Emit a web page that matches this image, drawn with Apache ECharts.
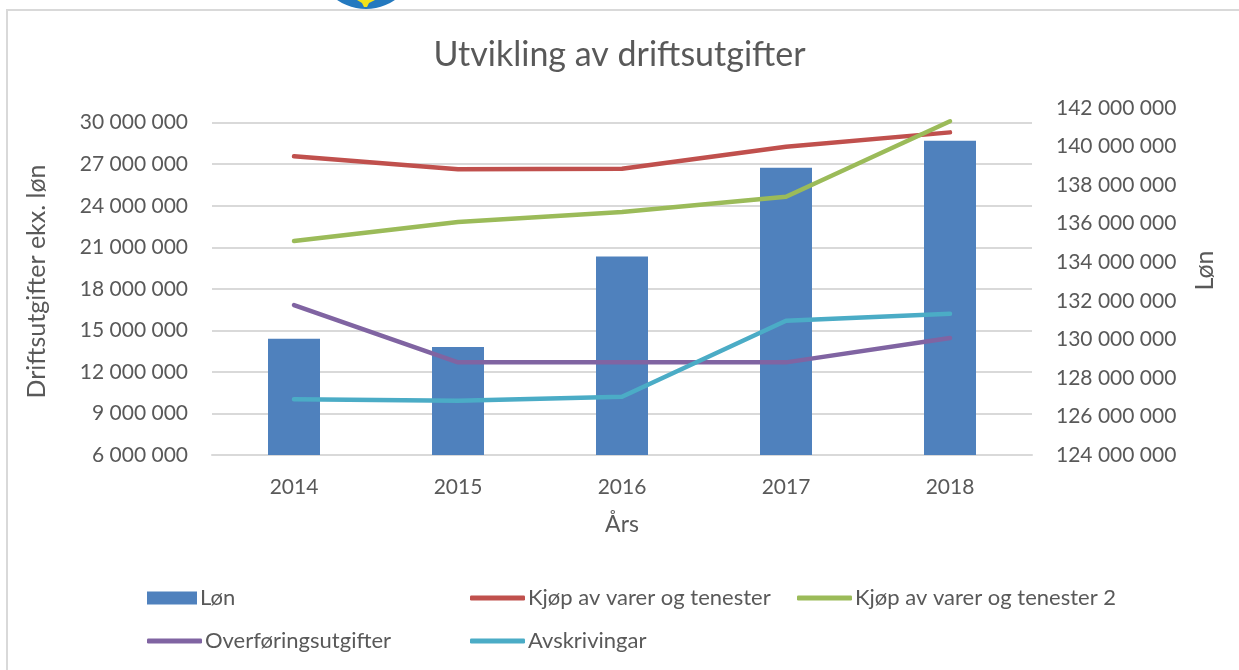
<!DOCTYPE html>
<html>
<head>
<meta charset="utf-8">
<script src="https://cdn.jsdelivr.net/npm/echarts@6/dist/echarts.min.js"></script>
<style>
  html, body { margin: 0; padding: 0; background: #fff; }
  #chart { width: 1239px; height: 670px; }
</style>
</head>
<body>
<div id="chart"></div>
<script>
const years = ['2014', '2015', '2016', '2017', '2018'];
const lonValues = [130030000, 129600000, 134300000, 138900000, 140300000];
const kjopValues = [27570000, 26630000, 26670000, 28260000, 29300000];
const kjop2Values = [21450000, 22820000, 23550000, 24650000, 30100000];
const overforingValues = [16830000, 12690000, 12690000, 12690000, 14450000];
const avskrivingValues = [10020000, 9920000, 10210000, 15700000, 16200000];

const textColor = '#595959';
const gridColor = '#d9d9d9';
const font = 'Lato';

const fmt = (v) => String(v).replace(/\B(?=(\d{3})+(?!\d))/g, ' ');

const lineSeries = (name, data, color) => ({
  name,
  type: 'line',
  yAxisIndex: 0,
  data,
  showSymbol: false,
  symbol: 'none',
  lineStyle: { color, width: 4.5, cap: 'round', join: 'round' },
  itemStyle: { color },
  z: 3,
});

const legendItem = (name, left, top, icon, w, h) => ({
  data: [{ name, icon }],
  left,
  top,
  padding: 0,
  itemWidth: w,
  itemHeight: h,
  selectedMode: false,
  textStyle: { color: textColor, fontSize: 22, fontFamily: font, padding: [0, 0, 0, -2] },
});

const chart = echarts.init(document.getElementById('chart'));

const option = {
  animation: false,
  backgroundColor: '#fff',
  title: {
    text: 'Utvikling av driftsutgifter',
    left: 'center',
    top: 33,
    textStyle: { color: textColor, fontSize: 34, fontWeight: 'normal', fontFamily: font },
  },
  grid: {
    left: 212,
    right: 207,
    top: 108,
    bottom: 215,
    containLabel: false,
    outerBoundsMode: 'none',
  },
  legend: [
    legendItem('Løn', 147, 587, 'rect', 50, 13),
    legendItem('Kjøp av varer og tenester', 470, 587, 'roundRect', 55, 5),
    legendItem('Kjøp av varer og tenester 2', 797, 587, 'roundRect', 55, 5),
    legendItem('Overføringsutgifter', 147, 630, 'roundRect', 55, 5),
    legendItem('Avskrivingar', 470, 630, 'roundRect', 55, 5),
  ],
  xAxis: {
    type: 'category',
    data: years,
    boundaryGap: true,
    axisLine: { lineStyle: { color: gridColor, width: 2 } },
    axisTick: { show: false },
    axisLabel: { color: textColor, fontSize: 21, fontFamily: font, margin: 22 },
    name: 'Års',
    nameLocation: 'middle',
    nameGap: 58,
    nameTextStyle: { color: textColor, fontSize: 23, fontFamily: font },
  },
  yAxis: [
    {
      type: 'value',
      position: 'left',
      min: 6000000,
      max: 31060000,
      interval: 3000000,
      axisLine: { show: false },
      axisTick: { show: false },
      axisLabel: {
        color: textColor,
        fontSize: 21,
        fontFamily: font,
        margin: 24,
        showMaxLabel: false,
        formatter: fmt,
      },
      splitLine: { show: true, showMaxLine: false, lineStyle: { color: gridColor, width: 2 } },
      name: 'Driftsutgifter ekx. løn',
      nameLocation: 'middle',
      nameRotate: 90,
      nameGap: 163,
      nameTextStyle: { color: textColor, fontSize: 25, fontFamily: font },
    },
    {
      type: 'value',
      position: 'right',
      min: 124000000,
      max: 142000000,
      interval: 2000000,
      axisLine: { show: false },
      axisTick: { show: false },
      splitLine: { show: false },
      axisLabel: { color: textColor, fontSize: 21, fontFamily: font, margin: 24, formatter: fmt },
      name: 'Løn',
      nameLocation: 'middle',
      nameRotate: 90,
      nameGap: 160,
      nameTextStyle: { color: textColor, fontSize: 25, fontFamily: font, padding: [0, 0, 30, 22] },
    },
  ],
  series: [
    {
      name: 'Løn',
      type: 'bar',
      yAxisIndex: 1,
      data: lonValues,
      barWidth: 52,
      itemStyle: { color: '#4F81BD' },
      z: 2,
    },
    lineSeries('Kjøp av varer og tenester', kjopValues, '#C0504D'),
    lineSeries('Kjøp av varer og tenester 2', kjop2Values, '#9BBB59'),
    lineSeries('Overføringsutgifter', overforingValues, '#8064A2'),
    lineSeries('Avskrivingar', avskrivingValues, '#4BACC6'),
  ],
  graphic: [
    {
      type: 'circle',
      shape: { cx: 366, cy: -42, r: 51 },
      style: { fill: '#2479bf' },
      z: 1,
    },
    {
      type: 'polygon',
      shape: { points: [[357, 0], [375, 0], [369, 3], [367, 7], [364, 7], [362, 3]] },
      style: { fill: '#f2e21a' },
      z: 2,
    },
    {
      type: 'line',
      shape: { x1: 6, y1: 10, x2: 1239, y2: 10 },
      style: { stroke: gridColor, lineWidth: 2 },
      z: 3,
    },
    {
      type: 'line',
      shape: { x1: 7, y1: 9, x2: 7, y2: 670 },
      style: { stroke: gridColor, lineWidth: 2 },
      z: 3,
    },
  ],
};

chart.setOption(option);
</script>
</body>
</html>
